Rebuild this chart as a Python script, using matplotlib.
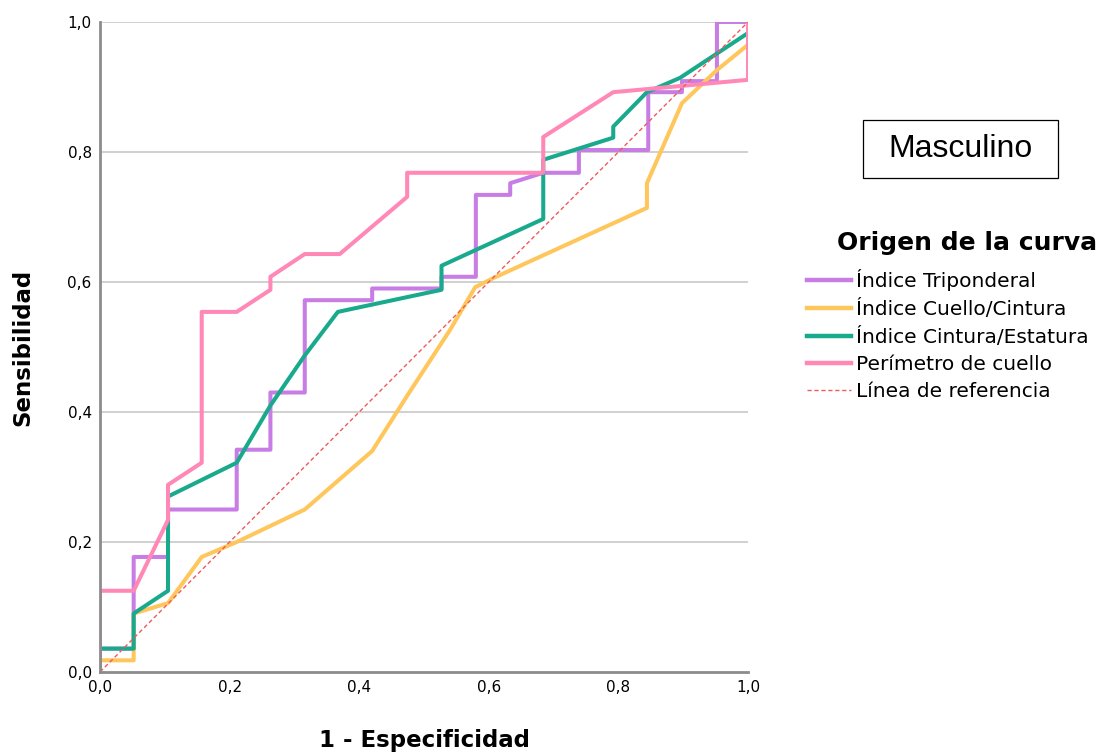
import matplotlib.pyplot as plt
from matplotlib.lines import Line2D
from matplotlib.patches import Rectangle

# Curvas ROC (1 - especificidad, sensibilidad)
tri_x = [0, 0, 0.052, 0.052, 0.105, 0.105, 0.211, 0.211, 0.263, 0.263, 0.316, 0.316, 0.42, 0.42,
         0.527, 0.527, 0.58, 0.58, 0.633, 0.633, 0.684, 0.739, 0.739, 0.846, 0.846, 0.898, 0.898,
         0.952, 0.952, 1.0]
tri_y = [0, 0.036, 0.036, 0.177, 0.177, 0.25, 0.25, 0.342, 0.342, 0.43, 0.43, 0.572, 0.572, 0.59,
         0.59, 0.608, 0.608, 0.734, 0.734, 0.752, 0.768, 0.768, 0.803, 0.803, 0.892, 0.892, 0.909,
         0.909, 1.0, 1.0]

cue_x = [0, 0, 0.052, 0.052, 0.105, 0.157, 0.211, 0.316, 0.42, 0.474, 0.54, 0.579, 0.607, 0.844,
         0.844, 0.898, 0.952, 1.0]
cue_y = [0, 0.018, 0.018, 0.09, 0.106, 0.177, 0.2, 0.25, 0.34, 0.425, 0.526, 0.592, 0.606, 0.714,
         0.752, 0.875, 0.926, 0.965]

cin_x = [0, 0, 0.052, 0.052, 0.105, 0.105, 0.211, 0.263, 0.316, 0.367, 0.527, 0.527, 0.684, 0.684,
         0.792, 0.792, 0.844, 0.895, 1.0]
cin_y = [0, 0.036, 0.036, 0.09, 0.125, 0.27, 0.322, 0.41, 0.487, 0.554, 0.588, 0.625, 0.697, 0.788,
         0.822, 0.839, 0.892, 0.914, 0.983]

per_x = [0, 0, 0.052, 0.105, 0.105, 0.157, 0.157, 0.211, 0.263, 0.263, 0.316, 0.37, 0.474, 0.474,
         0.684, 0.684, 0.792, 1.0, 1.0]
per_y = [0, 0.125, 0.125, 0.234, 0.288, 0.322, 0.554, 0.554, 0.588, 0.608, 0.643, 0.643, 0.731,
         0.768, 0.768, 0.823, 0.892, 0.911, 1.0]

ref_x = [0, 1]
ref_y = [0, 1]

ticks = [0.0, 0.2, 0.4, 0.6, 0.8, 1.0]
tick_labels = ['0,0', '0,2', '0,4', '0,6', '0,8', '1,0']

names = ['Índice Triponderal', 'Índice Cuello/Cintura', 'Índice Cintura/Estatura',
         'Perímetro de cuello', 'Línea de referencia']
colors = ['#c77de4', '#ffc65c', '#19a98c', '#ff88b6', '#f05a5a']

fig = plt.figure(figsize=(11.12, 7.55), dpi=100)
ax = fig.add_axes([0.0899, 0.1099, 0.5828, 0.861])

for y in ticks[1:]:
    ax.axhline(y, color='#c8c8c8', lw=1.2, zorder=0)

lw = 2.9
ax.plot(tri_x, tri_y, color=colors[0], lw=lw)
ax.plot(cue_x, cue_y, color=colors[1], lw=lw)
ax.plot(cin_x, cin_y, color=colors[2], lw=lw)
ax.plot(per_x, per_y, color=colors[3], lw=lw)
ax.plot(ref_x, ref_y, color=colors[4], lw=1, ls=(0, (3, 2)))

ax.set_xlim(0, 1)
ax.set_ylim(0, 1)
ax.set_xticks(ticks)
ax.set_xticklabels(tick_labels, fontsize=11)
ax.set_yticks(ticks)
ax.set_yticklabels(tick_labels, fontsize=11)
ax.tick_params(length=0, pad=6)
for s in ['top', 'right']:
    ax.spines[s].set_visible(False)
for s in ['left', 'bottom']:
    ax.spines[s].set_color('#8c8c8c')
    ax.spines[s].set_linewidth(2)

ax.set_xlabel('1 - Especificidad', fontsize=16.5, fontweight='bold', labelpad=24)
ax.set_ylabel('Sensibilidad', fontsize=16.5, fontweight='bold', labelpad=24)

handles = [Line2D([], [], color=c, lw=3.2) for c in colors[:4]]
handles.append(Line2D([], [], color=colors[4], lw=1, ls=(0, (3, 2))))
leg = fig.legend(handles, names, loc='upper left', bbox_to_anchor=(0.709, 0.668),
                 frameon=False, fontsize=14.5,
                 handlelength=2.2, handletextpad=0.25, labelspacing=0.4)
fig.text(0.8696, 0.678, 'Origen de la curva', fontsize=18, fontweight='bold',
         ha='center', va='center')

# recuadro "Masculino"
fig.patches.append(Rectangle((0.776, 0.7642), 0.1754, 0.0768, transform=fig.transFigure,
                             fc='white', ec='black', lw=0.9))
fig.text(0.8638, 0.8026, 'Masculino', fontsize=23, family='Liberation Sans',
         ha='center', va='center')

fig.savefig('out.png', dpi=100)
